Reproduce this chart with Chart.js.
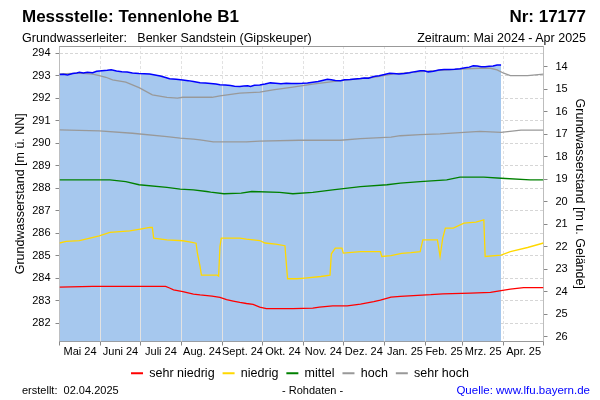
<!DOCTYPE html>
<html>
<head>
<meta charset="utf-8">
<script src="https://cdn.jsdelivr.net/npm/chart.js@4.4.1/dist/chart.umd.min.js"></script>
<style>
html,body{margin:0;padding:0;background:#fff;}
#wrap{position:relative;width:600px;height:400px;font-family:"Liberation Sans",Arial,sans-serif;color:#000;overflow:hidden;}
#c{position:absolute;left:0;top:0;}
.t{position:absolute;white-space:nowrap;}
</style>
</head>
<body>
<div id="wrap">
<canvas id="c" width="600" height="400"></canvas>
<div class="t" style="left:22px;top:8px;font-size:17px;font-weight:bold;line-height:17px;">Messstelle: Tennenlohe B1</div>
<div class="t" style="right:14px;top:8px;font-size:17px;font-weight:bold;line-height:17px;">Nr: 17177</div>
<div class="t" style="left:22px;top:32px;font-size:12.5px;line-height:12.5px;">Grundwasserleiter:&nbsp;&nbsp; Benker Sandstein (Gipskeuper)</div>
<div class="t" style="right:14px;top:32px;font-size:12.5px;line-height:12.5px;">Zeitraum: Mai 2024 - Apr 2025</div>
<div class="t" style="left:22px;top:385px;font-size:11px;line-height:11px;">erstellt:&nbsp;&nbsp;02.04.2025</div>
<div class="t" style="left:282px;top:385px;font-size:11px;line-height:11px;">- Rohdaten -</div>
<div class="t" style="right:10px;top:385px;font-size:11.5px;line-height:11.5px;color:#0000ff;">Quelle: www.lfu.bayern.de</div>
</div>
<script>
// ---- axis / tick data ----
const monthLabels = ['Mai 24','Juni 24','Juli 24','Aug. 24','Sept. 24','Okt. 24','Nov. 24','Dez. 24','Jan. 25','Feb. 25','Mrz. 25','Apr. 25'];
const monthStartDays = [0,31,61,92,123,153,184,214,245,276,304,335,365]; // days since 01.05.2024
const monthMidDays = monthLabels.map((_, i) => (monthStartDays[i] + monthStartDays[i + 1]) / 2);
const leftTicks = [282,283,284,285,286,287,288,289,290,291,292,293,294];
const rightTicks = [14,15,16,17,18,19,20,21,22,23,24,25,26];
const groundLevel = 307.40;   // m ü. NN  (right axis = groundLevel - level)
const yMin = 281.18, yMax = 294.32;

// ---- measured level (m ü. NN) ----
const measuredDay = [0,3,6,10,13,15,18,21,25,28,32,36,39,43,47,51,55,60,64,68,72,76,80,83,88,93,97,101,106,110,114,118,121,125,129,132,136,139,142,144,147,151,155,159,163,167,171,175,179,183,187,191,195,199,202,205,208,212,215,219,223,227,230,233,237,241,245,249,252,256,260,264,268,272,275,278,282,286,290,294,298,302,306,309,312,315,318,321,324,327,330,333];
const measuredLevel = [293.05,293.06,293.03,293.10,293.12,293.15,293.12,293.15,293.13,293.20,293.22,293.24,293.26,293.21,293.18,293.16,293.12,293.10,293.09,293.07,293.03,292.99,292.92,292.86,292.84,292.81,292.78,292.74,292.69,292.67,292.65,292.63,292.60,292.59,292.56,292.53,292.52,292.54,292.55,292.52,292.57,292.59,292.63,292.68,292.66,292.64,292.66,292.65,292.65,292.66,292.68,292.71,292.74,292.80,292.84,292.82,292.79,292.78,292.82,292.83,292.85,292.87,292.90,292.89,292.96,293.00,293.05,293.11,293.10,293.08,293.10,293.13,293.18,293.22,293.22,293.17,293.20,293.25,293.27,293.28,293.29,293.31,293.35,293.38,293.44,293.43,293.40,293.40,293.42,293.43,293.47,293.47];

// ---- statistic lines (m ü. NN) ----
const sehrNiedrigDay = [0,25,80,83,86,93,101,106,115,121,126,131,136,141,146,151,156,176,191,196,206,217,227,237,242,250,257,280,289,310,325,333,340,350,365];
const sehrNiedrigLevel = [283.60,283.63,283.63,283.56,283.48,283.40,283.29,283.25,283.20,283.14,283.04,282.98,282.92,282.87,282.83,282.71,282.64,282.64,282.66,282.71,282.76,282.76,282.84,282.95,283.02,283.15,283.19,283.26,283.30,283.33,283.36,283.44,283.51,283.58,283.58];

const niedrigDay = [0,5,15,23,30,38,53,61,68,70,71,81,93,99,103,104,106,107,119,120,121,122,136,141,151,155,163,170,172,179,185,197,204,205,208,213,214,227,242,243,250,258,265,272,274,285,287,289,291,297,305,314,320,321,333,340,353,365];
const niedrigLevel = [285.56,285.63,285.67,285.78,285.88,286.03,286.10,286.18,286.25,286.25,285.78,285.70,285.66,285.60,285.55,285.11,284.52,284.13,284.13,284.09,285.40,285.78,285.78,285.73,285.67,285.56,285.51,285.44,283.97,283.97,284.00,284.07,284.13,285.08,285.33,285.33,285.11,285.18,285.18,284.96,285.00,285.10,285.13,285.18,285.70,285.70,284.96,285.78,286.22,286.22,286.44,286.49,286.59,284.96,285.02,285.18,285.36,285.56];

const mittelDay = [0,38,50,60,81,91,101,111,114,124,137,145,166,176,191,206,227,247,257,272,292,302,320,333,355,365];
const mittelLevel = [288.37,288.37,288.29,288.15,288.03,287.96,287.92,287.85,287.82,287.75,287.78,287.85,287.81,287.75,287.81,287.92,288.07,288.15,288.22,288.29,288.37,288.49,288.49,288.44,288.37,288.37];

const hochDay = [0,30,55,81,91,101,106,116,141,151,181,212,227,250,257,272,287,317,333,348,365];
const hochLevel = [290.59,290.55,290.44,290.29,290.22,290.18,290.15,290.06,290.06,290.09,290.13,290.13,290.20,290.27,290.33,290.38,290.41,290.52,290.48,290.58,290.58];

const sehrHochDay = [0,15,25,30,35,40,50,60,70,81,89,93,106,115,121,136,151,161,176,191,212,237,252,272,302,317,325,330,335,340,353,365];
const sehrHochLevel = [293.08,293.11,293.07,293.00,292.93,292.81,292.71,292.47,292.15,292.04,292.00,292.04,292.04,292.04,292.10,292.22,292.27,292.37,292.49,292.62,292.78,292.93,293.08,293.18,293.29,293.33,293.33,293.26,293.11,293.00,293.00,293.07];

const pts = (days, vals) => days.map((d, i) => ({x: d, y: vals[i]}));
const FILL_INDEX = 5;

const monthLinesOverFill = {
  id: 'monthLinesOverFill',
  afterDatasetDraw(chart, args) {
    if (args.index !== FILL_INDEX) return;
    const {ctx, chartArea: a, scales: {x}} = chart;
    ctx.save();
    ctx.beginPath();
    ctx.rect(a.left, a.top, a.right - a.left, a.bottom - a.top);
    ctx.clip();
    ctx.globalCompositeOperation = 'source-atop';
    ctx.strokeStyle = '#e2e2e2';
    ctx.lineWidth = 1;
    x.ticks.forEach(t => {
      const px = Math.round(x.getPixelForValue(t.value) - 0.5) + 0.5;
      ctx.beginPath(); ctx.moveTo(px, a.top); ctx.lineTo(px, a.bottom); ctx.stroke();
    });
    ctx.restore();
  }
};
const topFrame = {
  id: 'topFrame',
  afterDraw(chart) {
    const {ctx, chartArea: a} = chart;
    ctx.save();
    ctx.strokeStyle = '#999';
    ctx.lineWidth = 1;
    const y = Math.round(a.top - 0.5) + 0.5;
    ctx.beginPath(); ctx.moveTo(a.left, y); ctx.lineTo(a.right, y); ctx.stroke();
    ctx.restore();
  }
};

const lineDs = (label, days, vals, color) => ({
  label, data: pts(days, vals), borderColor: color, backgroundColor: color,
  borderWidth: 1.3, pointRadius: 0, fill: false, tension: 0, order: 2, yAxisID: 'y'
});

Chart.defaults.font.family = '"Liberation Sans", Arial, sans-serif';
Chart.defaults.color = '#000';

new Chart(document.getElementById('c'), {
  type: 'line',
  data: {
    datasets: [
      lineDs('sehr niedrig', sehrNiedrigDay, sehrNiedrigLevel, '#ff0000'),
      lineDs('niedrig', niedrigDay, niedrigLevel, '#ffd800'),
      lineDs('mittel', mittelDay, mittelLevel, '#008000'),
      lineDs('hoch', hochDay, hochLevel, '#999999'),
      lineDs('sehr hoch', sehrHochDay, sehrHochLevel, '#999999'),
      {label: 'Messwerte Fläche', data: pts(measuredDay, measuredLevel), borderWidth: 0, borderColor: 'rgba(0,0,0,0)',
       backgroundColor: '#a6c8ee', fill: 'start', pointRadius: 0, tension: 0, order: 10, yAxisID: 'y'},
      {label: 'Messwerte', data: pts(measuredDay, measuredLevel), borderColor: '#0000ff', backgroundColor: '#0000ff',
       borderWidth: 1.5, fill: false, pointRadius: 0, tension: 0, order: 0, yAxisID: 'y'}
    ]
  },
  options: {
    responsive: false,
    animation: false,
    layout: {padding: {top: 46, left: 0, right: 0, bottom: 10.5}},
    plugins: {
      tooltip: {enabled: false},
      title: {display: false},
      legend: {
        position: 'bottom',
        labels: {
          boxWidth: 12, boxHeight: 2, padding: 8, color: '#000',
          font: {size: 12.5},
          filter: item => item.datasetIndex < FILL_INDEX,
          generateLabels(chart) {
            return Chart.defaults.plugins.legend.labels.generateLabels(chart).map(l => Object.assign(l, {lineWidth: 0}));
          }
        }
      }
    },
    scales: {
      x: {
        type: 'linear', position: 'bottom', weight: 0, min: 0, max: 365,
        afterBuildTicks: s => { s.ticks = monthStartDays.map(v => ({value: v})); },
        afterFit: s => { s.height = 4; },
        grid: {color: '#d6d6d6', tickLength: 4, tickColor: '#888'},
        border: {color: '#999', dash: [3, 2]},
        ticks: {display: false, autoSkip: false}
      },
      xl: {
        type: 'linear', position: 'bottom', weight: 1, min: 0, max: 365,
        afterBuildTicks: s => { s.ticks = monthMidDays.map(v => ({value: v})); },
        afterFit: s => { s.height = 13.5; },
        grid: {display: false, drawTicks: false, tickLength: 0},
        border: {display: false},
        ticks: {autoSkip: false, maxRotation: 0, minRotation: 0, padding: 0,
                font: {size: 11}, color: '#000', callback: (v, i) => monthLabels[i] ?? ''}
      },
      y: {
        type: 'linear', position: 'left', min: yMin, max: yMax,
        afterBuildTicks: s => { s.ticks = leftTicks.map(v => ({value: v})); },
        afterFit: s => { s.width = 59.5; },
        grid: {color: '#d6d6d6', tickLength: 4, tickColor: '#888'},
        border: {color: '#999', dash: [3, 2]},
        ticks: {padding: 5, font: {size: 11}, color: '#000'},
        title: {display: true, text: 'Grundwasserstand [m ü. NN]', font: {size: 12.5}, color: '#000', padding: {top: 13.5, bottom: 0}}
      },
      y2: {
        type: 'linear', position: 'right', reverse: true, min: groundLevel - yMax, max: groundLevel - yMin,
        afterBuildTicks: s => { s.ticks = rightTicks.map(v => ({value: v})); },
        afterFit: s => { s.width = 56.5; },
        grid: {drawOnChartArea: false, tickLength: 4, tickColor: '#888'},
        border: {color: '#999'},
        ticks: {padding: 8, font: {size: 11}, color: '#000'},
        title: {display: true, text: 'Grundwasserstand [m u. Gelände]', font: {size: 12.5}, color: '#000', padding: {top: 13.5, bottom: 0}}
      }
    }
  },
  plugins: [monthLinesOverFill, topFrame]
});
</script>
</body>
</html>
